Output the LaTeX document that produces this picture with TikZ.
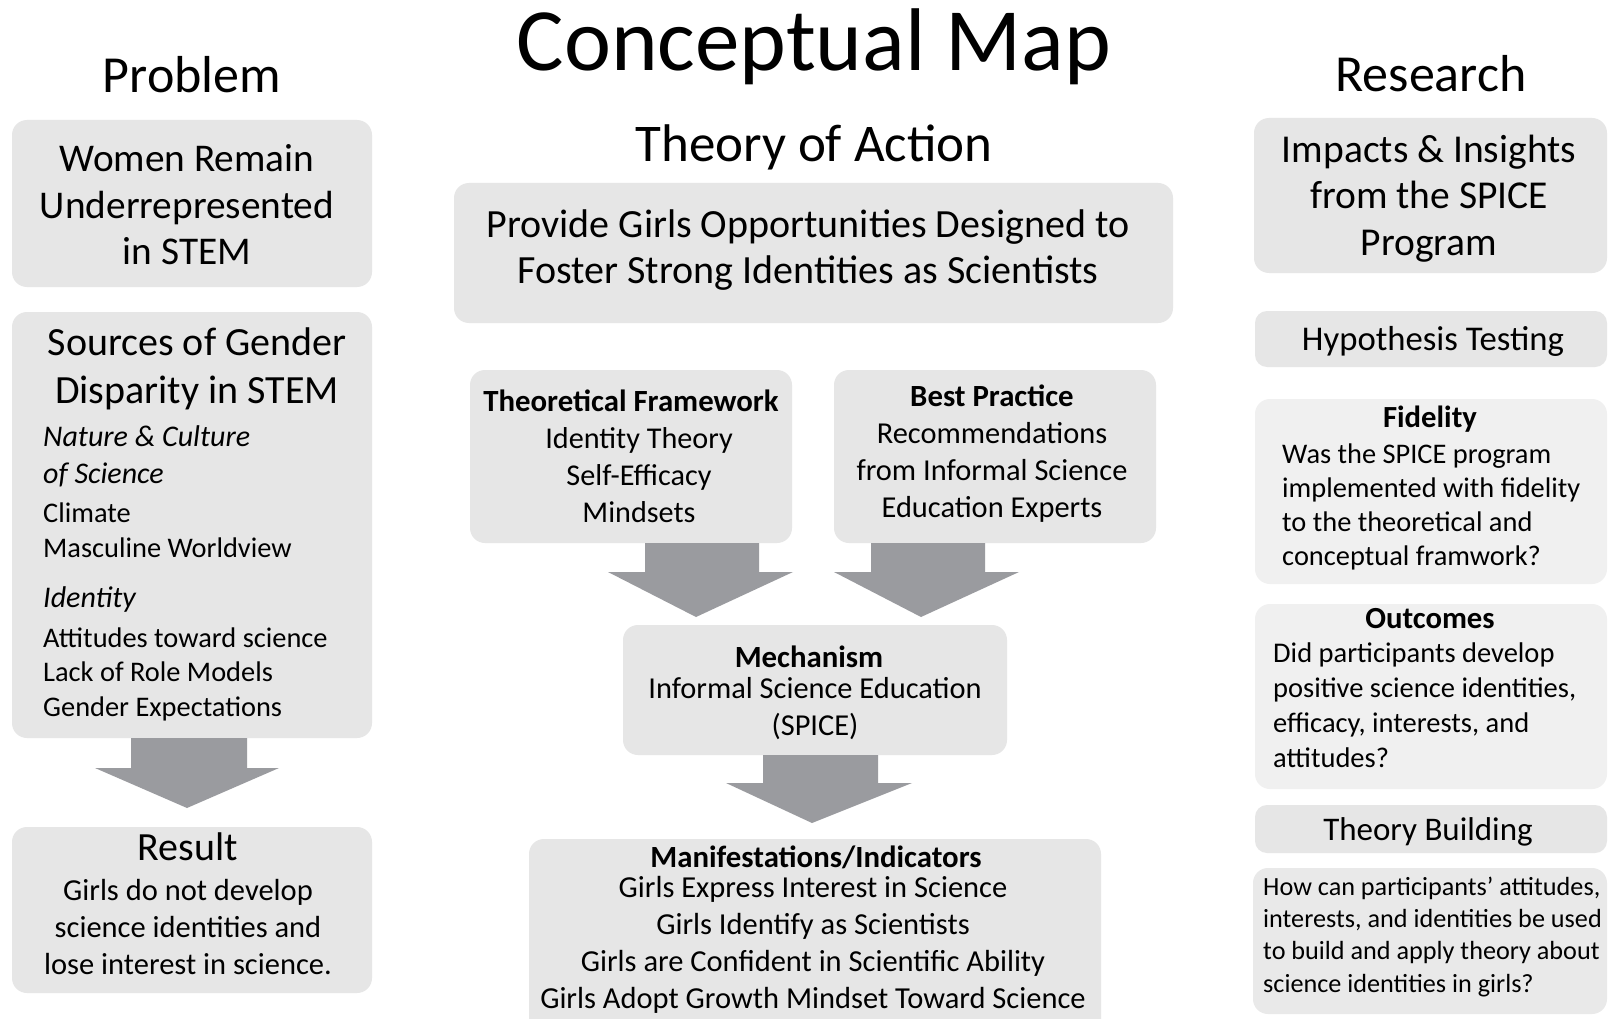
\documentclass[tikz,border=0pt]{standalone}
\usepackage{fontspec}
\setmainfont{Carlito}
\usetikzlibrary{calc}
\definecolor{boxgray}{RGB}{230,230,230}
\definecolor{boxlight}{RGB}{240,240,240}
\definecolor{howgray}{RGB}{233,233,233}
\definecolor{arrowgray}{RGB}{154,155,159}
\newcommand{\fsz}[2]{\fontsize{#1pt}{#2pt}\selectfont}

\begin{document}
\begin{tikzpicture}[x=1pt,y=-1pt,
  panel/.style={fill=boxgray, rounded corners=15pt, inner sep=0pt, outer sep=0pt, anchor=north west, draw=none},
  lightpanel/.style={panel, fill=boxlight},
  label/.style={inner sep=0pt, anchor=base, align=center, text=black},
  lefttext/.style={inner sep=0pt, anchor=base west, align=left, text=black},
  blockarrow/.style={fill=arrowgray, draw=none}]
\useasboundingbox (0,0) rectangle (1609,1019);
\fill[white] (0,0) rectangle (1609,1019);
% multi-line labels are placed by the baseline of their last line

% ---------- headings ----------
\node[label, font=\fsz{89}{100}] (title) at (814,71) {Conceptual Map};
\node[label, font=\fsz{52}{60}] (hproblem) at (192,93) {Problem};
\node[label, font=\fsz{52}{60}] (hresearch) at (1431,92) {Research};
\node[label, font=\fsz{53}{60}] (haction) at (814,162) {Theory of Action};

% ---------- left column ----------
\node[panel, minimum width=360pt, minimum height=167pt] (women) at (12,120) {};
\node[label, font=\fsz{39.3}{46.5}] (twomen) at (187,265) {Women Remain\\Underrepresented\\in STEM};

\node[panel, minimum width=360pt, minimum height=426pt] (sources) at (12,312) {};
\node[label, font=\fsz{40}{48}] (tsources) at (197,403) {Sources of Gender\\Disparity in STEM};
\node[lefttext, font=\fsz{30}{37}\itshape] (tnature) at (43,483) {Nature \& Culture\\of Science};
\node[lefttext, font=\fsz{28.4}{35}] (tclimate) at (43,557) {Climate\\Masculine Worldview};
\node[lefttext, font=\fsz{30}{37}\itshape] (tidentity) at (43,607) {Identity};
\node[lefttext, font=\fsz{28.4}{34.5}] (tattitudes) at (43,716) {Attitudes toward science\\Lack of Role Models\\Gender Expectations};

\node[panel, minimum width=360pt, minimum height=166pt] (result) at (12,827) {};
\node[label, font=\fsz{40}{48}] (tresult) at (188,860) {Result};
\node[label, font=\fsz{30.5}{37}] (tresultbody) at (188,974) {Girls do not develop\\science identities and\\lose interest in science.};

% ---------- middle column ----------
\node[panel, minimum width=719pt, minimum height=140pt] (provide) at (454,183) {};
\node[label, font=\fsz{40}{46}] (tprovide) at (808,283) {Provide Girls Opportunities Designed to\\Foster Strong Identities as Scientists};

\node[panel, minimum width=322pt, minimum height=173pt] (theo) at (470,370) {};
\node[label, font=\fsz{30.8}{37}\bfseries] (ttheo) at (631,411) {Theoretical Framework};
\node[label, font=\fsz{30.2}{37}] (ttheobody) at (639,522) {Identity Theory\\Self-Efficacy\\Mindsets};

\node[panel, minimum width=322pt, minimum height=173pt] (best) at (834,370) {};
\node[label, font=\fsz{30.8}{37}\bfseries] (tbest) at (992,406) {Best Practice};
\node[label, font=\fsz{30.4}{37}] (tbestbody) at (992,517) {Recommendations\\from Informal Science\\Education Experts};

\node[panel, minimum width=384pt, minimum height=130pt] (mech) at (623,625) {};
\node[label, font=\fsz{30.8}{37}\bfseries] (tmech) at (809,667) {Mechanism};
\node[label, font=\fsz{30.4}{37}] (tmechbody) at (815,735) {Informal Science Education\\(SPICE)};

\node[panel, minimum width=572pt, minimum height=200pt] (manif) at (529,839) {};
\node[label, font=\fsz{30.8}{37}\bfseries] (tmanif) at (816,867) {Manifestations/Indicators};
\node[label, font=\fsz{30.5}{36.7}] (tmanifbody) at (813,1008) {Girls Express Interest in Science\\Girls Identify as Scientists\\Girls are Confident in Scientific Ability\\Girls Adopt Growth Mindset Toward Science};

% ---------- right column ----------
\node[panel, minimum width=353pt, minimum height=155pt] (impacts) at (1254,118) {};
\node[label, font=\fsz{39.5}{46.5}] (timpacts) at (1429,255) {Impacts \& Insights\\from the SPICE\\Program};

\node[panel, minimum width=352pt, minimum height=56pt, rounded corners=12pt] (hyp) at (1255,311) {};
\node[label, font=\fsz{34.7}{40}] (thyp) at (1433,350) {Hypothesis Testing};

\node[lightpanel, minimum width=352pt, minimum height=185pt] (fid) at (1255,399) {};
\node[label, font=\fsz{30.7}{37}\bfseries] (tfid) at (1430,427) {Fidelity};
\node[lefttext, font=\fsz{28.4}{34}] (tfidbody) at (1282,565) {Was the SPICE program\\implemented with fidelity\\to the theoretical and\\conceptual framwork?};

\node[lightpanel, minimum width=352pt, minimum height=185pt] (out) at (1255,604) {};
\node[label, font=\fsz{30.7}{37}\bfseries] (tout) at (1430,628) {Outcomes};
\node[lefttext, font=\fsz{28.5}{34.7}] (toutbody) at (1273,767) {Did participants develop\\positive science identities,\\efficacy, interests, and\\attitudes?};

\node[panel, minimum width=352pt, minimum height=48pt, rounded corners=12pt] (tb) at (1255,805) {};
\node[label, font=\fsz{33}{40}] (ttb) at (1428,840) {Theory Building};

\node[panel, fill=howgray, minimum width=354pt, minimum height=146pt] (how) at (1253,868) {};
\node[lefttext, font=\fsz{26.2}{32.3}] (thow) at (1263,992) {How can participants’ attitudes,\\interests, and identities be used\\to build and apply theory about\\science identities in girls?};

% ---------- block arrows ----------
\fill[blockarrow] ($(sources.south)+(-61,0)$) -- ($(sources.south)+(55,0)$)
  -- ($(sources.south)+(55,30)$) -- ($(sources.south)+(87,30)$)
  -- ($(result.north)+(-5,-19)$)
  -- ($(sources.south)+(-97,30)$) -- ($(sources.south)+(-61,30)$) -- cycle;

\fill[blockarrow] ($(theo.south)+(14,0)$) -- ($(theo.south)+(128,0)$)
  -- ($(theo.south)+(128,29)$) -- ($(theo.south)+(162,29)$)
  -- ($(mech.north)+(-119,-8)$)
  -- ($(theo.south)+(-23,29)$) -- ($(theo.south)+(14,29)$) -- cycle;

\fill[blockarrow] ($(best.south)+(-124,0)$) -- ($(best.south)+(-10,0)$)
  -- ($(best.south)+(-10,29)$) -- ($(best.south)+(24,29)$)
  -- ($(mech.north)+(106,-8)$)
  -- ($(best.south)+(-161,29)$) -- ($(best.south)+(-124,29)$) -- cycle;

\fill[blockarrow] ($(mech.south)+(-52,0)$) -- ($(mech.south)+(63,0)$)
  -- ($(mech.south)+(63,28)$) -- ($(mech.south)+(97,28)$)
  -- ($(manif.north)+(-3,-16)$)
  -- ($(mech.south)+(-89,28)$) -- ($(mech.south)+(-52,28)$) -- cycle;
\end{tikzpicture}
\end{document}
